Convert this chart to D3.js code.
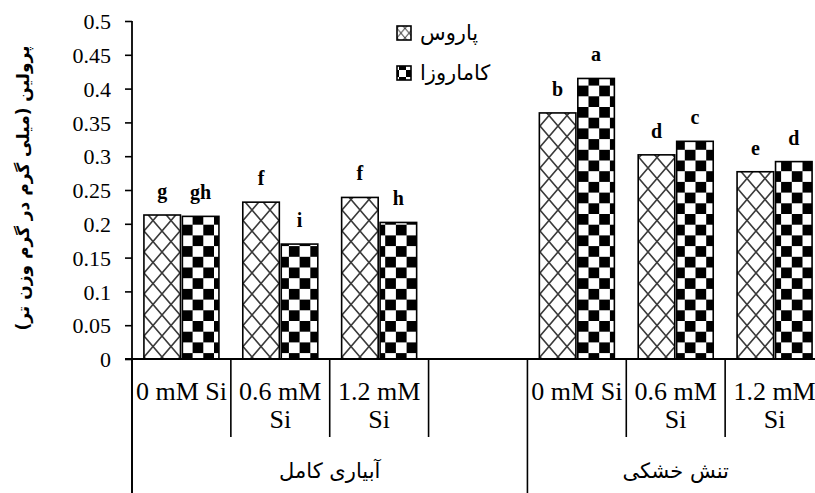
<!DOCTYPE html>
<html>
<head>
<meta charset="utf-8">
<script src="https://cdn.jsdelivr.net/npm/d3@7"></script>
<style>
  html, body { margin: 0; padding: 0; background: #fff; }
  svg { display: block; }
  .cat-label { font-family: "Liberation Serif", "Times New Roman", serif; font-size: 26px; fill: #000; }
  .sig { font-family: "Liberation Serif", "Times New Roman", serif; font-size: 20px; font-weight: bold; fill: #000; }
  .fa { font-family: "DejaVu Sans", "Noto Sans", sans-serif; fill: #000; }
</style>
</head>
<body>
<div id="chart"></div>
<script>
// categories (one empty slot between the two groups)
const categories = ["fi-0", "fi-0.6", "fi-1.2", "gap", "ds-0", "ds-0.6", "ds-1.2"];
const catLines = {
  "fi-0": ["0 mM Si"], "fi-0.6": ["0.6 mM", "Si"], "fi-1.2": ["1.2 mM", "Si"], "gap": [],
  "ds-0": ["0 mM Si"], "ds-0.6": ["0.6 mM", "Si"], "ds-1.2": ["1.2 mM", "Si"]
};
const groups = [
  { name: "آبیاری کامل", cats: ["fi-0", "fi-0.6", "fi-1.2", "gap"] },
  { name: "تنش خشکی", cats: ["ds-0", "ds-0.6", "ds-1.2"] }
];
const seriesNames = ["پاروس", "کاماروزا"];
const parosValues = [0.213, 0.232, 0.239, null, 0.364, 0.302, 0.277];
const kamarValues = [0.211, 0.170, 0.202, null, 0.415, 0.322, 0.292];
const parosLetters = ["g", "f", "f", null, "b", "d", "e"];
const kamarLetters = ["gh", "i", "h", null, "a", "c", "d"];
const yTicks = [0, 0.05, 0.1, 0.15, 0.2, 0.25, 0.3, 0.35, 0.4, 0.45, 0.5];
const yTitle = "پرولین (میلی گرم در گرم وزن تر)";

const W = 815, H = 493;
const svg = d3.select("#chart").append("svg").attr("width", W).attr("height", H);

const defs = svg.append("defs");
// diamond lattice for the first cultivar
function latticePattern(id, s) {
  const p = defs.append("pattern").attr("id", id).attr("patternUnits", "userSpaceOnUse")
    .attr("width", 18 * s).attr("height", 21 * s);
  p.append("rect").attr("width", 18 * s).attr("height", 21 * s).attr("fill", "#fff");
  p.append("path")
    .attr("d", `M0,0L${18 * s},${21 * s}M${18 * s},0L0,${21 * s}`)
    .attr("stroke", "#3a3a3a").attr("stroke-width", 1.6 * Math.max(s, 0.6)).attr("fill", "none");
}
function checkerPattern(id, c) {
  const p = defs.append("pattern").attr("id", id).attr("patternUnits", "userSpaceOnUse")
    .attr("width", c * 2).attr("height", c * 2);
  p.append("rect").attr("width", c * 2).attr("height", c * 2).attr("fill", "#fff");
  p.append("rect").attr("width", c).attr("height", c).attr("fill", "#000");
  p.append("rect").attr("x", c).attr("y", c).attr("width", c).attr("height", c).attr("fill", "#000");
}
latticePattern("lattice", 1);
latticePattern("latticeSmall", 0.45);
checkerPattern("checker", 10.7);
checkerPattern("checkerSmall", 7);

const x0 = 132, x1 = 824, y0 = 359, yTop = 21;
const x = d3.scaleBand().domain(categories).range([x0, x1]).paddingInner(0).paddingOuter(0);
const xs = d3.scaleBand().domain(["p", "k"]).range([0, x.bandwidth()])
  .paddingInner(0.05).paddingOuter(0.31);
const y = d3.scaleLinear().domain([0, 0.5]).range([y0, yTop]);

const fills = { p: "url(#lattice)", k: "url(#checker)" };
const rows = [];
categories.forEach((c, i) => {
  if (parosValues[i] != null) rows.push({ cat: c, s: "p", v: parosValues[i], letter: parosLetters[i] });
  if (kamarValues[i] != null) rows.push({ cat: c, s: "k", v: kamarValues[i], letter: kamarLetters[i] });
});

svg.append("g").selectAll("rect").data(rows).join("rect")
  .attr("x", d => x(d.cat) + xs(d.s))
  .attr("y", d => y(d.v))
  .attr("width", xs.bandwidth())
  .attr("height", d => y(0) - y(d.v))
  .attr("fill", d => fills[d.s])
  .attr("stroke", "#000").attr("stroke-width", 1.6);

svg.append("g").selectAll("text").data(rows).join("text")
  .attr("class", "sig")
  .attr("x", d => x(d.cat) + xs(d.s) + xs.bandwidth() / 2)
  .attr("y", d => y(d.v) - 17)
  .attr("text-anchor", "middle")
  .text(d => d.letter);

// y axis
const yAxis = svg.append("g").attr("transform", `translate(${x0},0)`)
  .call(d3.axisLeft(y).tickValues(yTicks).tickSize(7).tickPadding(14).tickFormat(d3.format("")));
yAxis.attr("font-family", null).attr("font-size", null);
yAxis.select(".domain").remove();
yAxis.selectAll(".tick line").attr("stroke", "#000").attr("stroke-width", 1.6);
yAxis.selectAll(".tick text")
  .style("font-family", "'Liberation Serif', 'Times New Roman', serif")
  .style("font-size", "22px").attr("fill", "#000").attr("dy", "0.35em");
svg.append("line").attr("x1", x0).attr("x2", x0).attr("y1", yTop).attr("y2", H)
  .attr("stroke", "#000").attr("stroke-width", 1.8);

// x axis line
svg.append("line").attr("x1", x0 - 7).attr("x2", W).attr("y1", y0).attr("y2", y0)
  .attr("stroke", "#000").attr("stroke-width", 1.8);

// category separators (short) and group separators (long)
const groupEdges = groups.map(g => x(g.cats[0]));
const innerEdges = categories.map(c => x(c) + x.bandwidth()).filter(v => !groupEdges.some(e => Math.abs(e - v) < 1));
svg.append("g").selectAll("line").data(innerEdges).join("line")
  .attr("x1", d => d).attr("x2", d => d).attr("y1", y0).attr("y2", 437)
  .attr("stroke", "#000").attr("stroke-width", 1.6);
svg.append("g").selectAll("line").data(groupEdges).join("line")
  .attr("x1", d => d).attr("x2", d => d).attr("y1", y0).attr("y2", H)
  .attr("stroke", "#000").attr("stroke-width", 1.6);

// category labels
const catG = svg.append("g").selectAll("text").data(categories).join("text")
  .attr("class", "cat-label")
  .attr("text-anchor", "middle")
  .attr("x", d => x(d) + x.bandwidth() / 2)
  .attr("y", 400);
catG.selectAll("tspan").data(d => catLines[d]).join("tspan")
  .attr("x", function () { return d3.select(this.parentNode).attr("x"); })
  .attr("dy", (d, i) => i === 0 ? 0 : 28)
  .text(d => d);

// group labels
svg.append("g").selectAll("text").data(groups).join("text")
  .attr("class", "fa").attr("font-size", 21)
  .attr("text-anchor", "middle")
  .attr("x", g => (x(g.cats[0]) + x(g.cats[g.cats.length - 1]) + x.bandwidth()) / 2)
  .attr("y", 478)
  .text(g => g.name);

// y title
svg.append("text").attr("class", "fa").attr("font-size", 17).attr("font-weight", "bold")
  .attr("text-anchor", "middle")
  .attr("transform", "translate(29,188) rotate(-90)")
  .text(yTitle);

// legend
const legend = svg.append("g");
const legendFills = ["url(#latticeSmall)", "url(#checkerSmall)"];
seriesNames.forEach((n, i) => {
  const cy = 33 + i * 40;
  legend.append("rect").attr("x", 397).attr("y", cy - 7).attr("width", 14).attr("height", 14)
    .attr("fill", legendFills[i]).attr("stroke", "#000").attr("stroke-width", 1.6);
  legend.append("text").attr("class", "fa").attr("font-size", 21)
    .attr("x", 420).attr("y", cy + 7).attr("text-anchor", "start").text(n);
});
</script>
</body>
</html>
